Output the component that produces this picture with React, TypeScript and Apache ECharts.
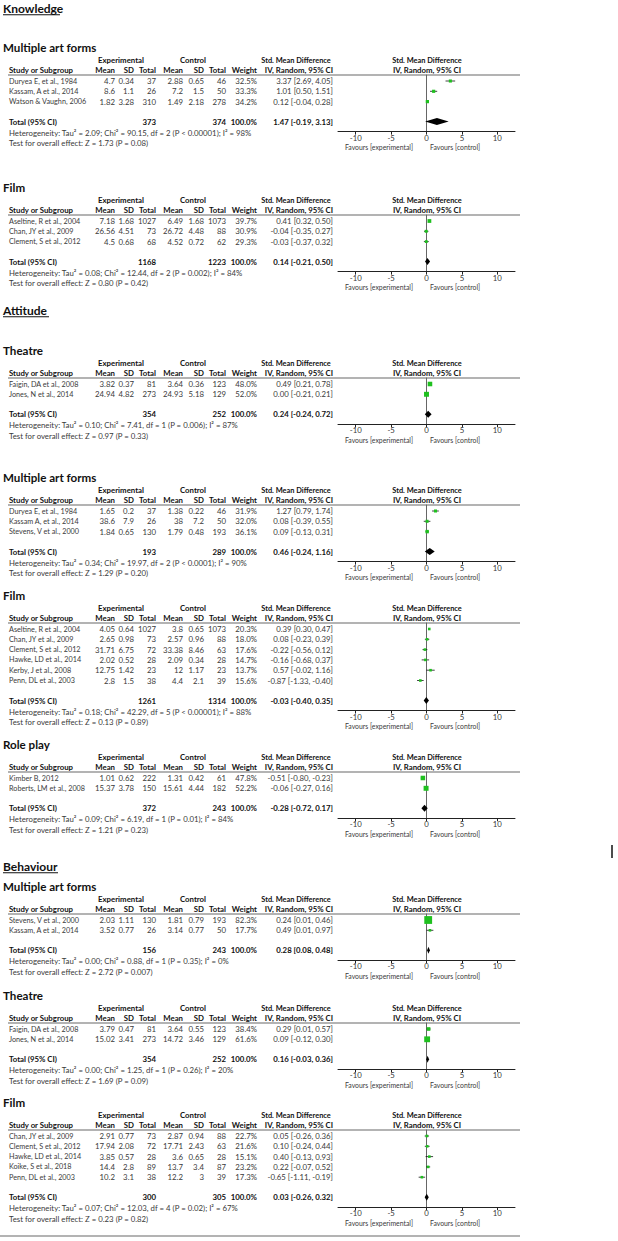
import React, { useEffect, useRef } from "react";
import * as echarts from "echarts";

// ---------- DATA ----------
// Knowledge – Multiple art forms
const K_MULTI_STUDIES = ["Duryea E, et al., 1984", "Kassam, A et al., 2014", "Watson & Vaughn, 2006"];
const K_MULTI_EXP = [[4.7, 0.34, 37], [8.6, 1.1, 26], [1.82, 3.28, 310]];
const K_MULTI_CTRL = [[2.88, 0.65, 46], [7.2, 1.5, 50], [1.49, 2.18, 278]];
const K_MULTI_WEIGHT = [32.5, 33.3, 34.2];
const K_MULTI_SMD = [[3.37, 2.69, 4.05], [1.01, 0.5, 1.51], [0.12, -0.04, 0.28]];
const K_MULTI_TOTAL = [373, 374, 1.47, -0.19, 3.13];
const K_MULTI_HET = "Heterogeneity: Tau² = 2.09; Chi² = 90.15, df = 2 (P < 0.00001); I² = 98%";
const K_MULTI_Z = "Test for overall effect: Z = 1.73 (P = 0.08)";

// Knowledge – Film
const K_FILM_STUDIES = ["Aseltine, R et al., 2004", "Chan, JY et al., 2009", "Clement, S et al., 2012"];
const K_FILM_EXP = [[7.18, 1.68, 1027], [26.56, 4.51, 73], [4.5, 0.68, 68]];
const K_FILM_CTRL = [[6.49, 1.68, 1073], [26.72, 4.48, 88], [4.52, 0.72, 62]];
const K_FILM_WEIGHT = [39.7, 30.9, 29.3];
const K_FILM_SMD = [[0.41, 0.32, 0.5], [-0.04, -0.35, 0.27], [-0.03, -0.37, 0.32]];
const K_FILM_TOTAL = [1168, 1223, 0.14, -0.21, 0.5];
const K_FILM_HET = "Heterogeneity: Tau² = 0.08; Chi² = 12.44, df = 2 (P = 0.002); I² = 84%";
const K_FILM_Z = "Test for overall effect: Z = 0.80 (P = 0.42)";

// Attitude – Theatre
const A_THEATRE_STUDIES = ["Faigin, DA et al., 2008", "Jones, N et al., 2014"];
const A_THEATRE_EXP = [[3.82, 0.37, 81], [24.94, 4.82, 273]];
const A_THEATRE_CTRL = [[3.64, 0.36, 123], [24.93, 5.18, 129]];
const A_THEATRE_WEIGHT = [48.0, 52.0];
const A_THEATRE_SMD = [[0.49, 0.21, 0.78], [0.0, -0.21, 0.21]];
const A_THEATRE_TOTAL = [354, 252, 0.24, -0.24, 0.72];
const A_THEATRE_HET = "Heterogeneity: Tau² = 0.10; Chi² = 7.41, df = 1 (P = 0.006); I² = 87%";
const A_THEATRE_Z = "Test for overall effect: Z = 0.97 (P = 0.33)";

// Attitude – Multiple art forms
const A_MULTI_STUDIES = ["Duryea E, et al., 1984", "Kassam A, et al., 2014", "Stevens, V et al., 2000"];
const A_MULTI_EXP = [[1.65, 0.2, 37], [38.6, 7.9, 26], [1.84, 0.65, 130]];
const A_MULTI_CTRL = [[1.38, 0.22, 46], [38, 7.2, 50], [1.79, 0.48, 193]];
const A_MULTI_WEIGHT = [31.9, 32.0, 36.1];
const A_MULTI_SMD = [[1.27, 0.79, 1.74], [0.08, -0.39, 0.55], [0.09, -0.13, 0.31]];
const A_MULTI_TOTAL = [193, 289, 0.46, -0.24, 1.16];
const A_MULTI_HET = "Heterogeneity: Tau² = 0.34; Chi² = 19.97, df = 2 (P < 0.0001); I² = 90%";
const A_MULTI_Z = "Test for overall effect: Z = 1.29 (P = 0.20)";

// Attitude – Film
const A_FILM_STUDIES = [
  "Aseltine, R et al., 2004",
  "Chan, JY et al., 2009",
  "Clement, S et al., 2012",
  "Hawke, LD et al., 2014",
  "Kerby, J et al., 2008",
  "Penn, DL et al., 2003",
];
const A_FILM_EXP = [[4.05, 0.64, 1027], [2.65, 0.98, 73], [31.71, 6.75, 72], [2.02, 0.52, 28], [12.75, 1.42, 23], [2.8, 1.5, 38]];
const A_FILM_CTRL = [[3.8, 0.65, 1073], [2.57, 0.96, 88], [33.38, 8.46, 63], [2.09, 0.34, 28], [12, 1.17, 23], [4.4, 2.1, 39]];
const A_FILM_WEIGHT = [20.3, 18.0, 17.6, 14.7, 13.7, 15.6];
const A_FILM_SMD = [[0.39, 0.3, 0.47], [0.08, -0.23, 0.39], [-0.22, -0.56, 0.12], [-0.16, -0.68, 0.37], [0.57, -0.02, 1.16], [-0.87, -1.33, -0.4]];
const A_FILM_TOTAL = [1261, 1314, -0.03, -0.4, 0.35];
const A_FILM_HET = "Heterogeneity: Tau² = 0.18; Chi² = 42.29, df = 5 (P < 0.00001); I² = 88%";
const A_FILM_Z = "Test for overall effect: Z = 0.13 (P = 0.89)";

// Attitude – Role play
const A_ROLE_STUDIES = ["Kimber B, 2012", "Roberts, LM et al., 2008"];
const A_ROLE_EXP = [[1.01, 0.62, 222], [15.37, 3.78, 150]];
const A_ROLE_CTRL = [[1.31, 0.42, 61], [15.61, 4.44, 182]];
const A_ROLE_WEIGHT = [47.8, 52.2];
const A_ROLE_SMD = [[-0.51, -0.8, -0.23], [-0.06, -0.27, 0.16]];
const A_ROLE_TOTAL = [372, 243, -0.28, -0.72, 0.17];
const A_ROLE_HET = "Heterogeneity: Tau² = 0.09; Chi² = 6.19, df = 1 (P = 0.01); I² = 84%";
const A_ROLE_Z = "Test for overall effect: Z = 1.21 (P = 0.23)";

// Behaviour – Multiple art forms
const B_MULTI_STUDIES = ["Stevens, V et al., 2000", "Kassam, A et al., 2014"];
const B_MULTI_EXP = [[2.03, 1.11, 130], [3.52, 0.77, 26]];
const B_MULTI_CTRL = [[1.81, 0.79, 193], [3.14, 0.77, 50]];
const B_MULTI_WEIGHT = [82.3, 17.7];
const B_MULTI_SMD = [[0.24, 0.01, 0.46], [0.49, 0.01, 0.97]];
const B_MULTI_TOTAL = [156, 243, 0.28, 0.08, 0.48];
const B_MULTI_HET = "Heterogeneity: Tau² = 0.00; Chi² = 0.88, df = 1 (P = 0.35); I² = 0%";
const B_MULTI_Z = "Test for overall effect: Z = 2.72 (P = 0.007)";

// Behaviour – Theatre
const B_THEATRE_STUDIES = ["Faigin, DA et al., 2008", "Jones, N et al., 2014"];
const B_THEATRE_EXP = [[3.79, 0.47, 81], [15.02, 3.41, 273]];
const B_THEATRE_CTRL = [[3.64, 0.55, 123], [14.72, 3.46, 129]];
const B_THEATRE_WEIGHT = [38.4, 61.6];
const B_THEATRE_SMD = [[0.29, 0.01, 0.57], [0.09, -0.12, 0.3]];
const B_THEATRE_TOTAL = [354, 252, 0.16, -0.03, 0.36];
const B_THEATRE_HET = "Heterogeneity: Tau² = 0.00; Chi² = 1.25, df = 1 (P = 0.26); I² = 20%";
const B_THEATRE_Z = "Test for overall effect: Z = 1.69 (P = 0.09)";

// Behaviour – Film
const B_FILM_STUDIES = [
  "Chan, JY et al., 2009",
  "Clement, S et al., 2012",
  "Hawke, LD et al., 2014",
  "Koike, S et al., 2018",
  "Penn, DL et al., 2003",
];
const B_FILM_EXP = [[2.91, 0.77, 73], [17.94, 2.08, 72], [3.85, 0.57, 28], [14.4, 2.8, 89], [10.2, 3.1, 38]];
const B_FILM_CTRL = [[2.87, 0.94, 88], [17.71, 2.43, 63], [3.6, 0.65, 28], [13.7, 3.4, 87], [12.2, 3, 39]];
const B_FILM_WEIGHT = [22.7, 21.6, 15.1, 23.2, 17.3];
const B_FILM_SMD = [[0.05, -0.26, 0.36], [0.1, -0.24, 0.44], [0.4, -0.13, 0.93], [0.22, -0.07, 0.52], [-0.65, -1.11, -0.19]];
const B_FILM_TOTAL = [300, 305, 0.03, -0.26, 0.32];
const B_FILM_HET = "Heterogeneity: Tau² = 0.07; Chi² = 12.03, df = 4 (P = 0.02); I² = 67%";
const B_FILM_Z = "Test for overall effect: Z = 0.23 (P = 0.82)";

const AXIS_TICKS = [-10, -5, 0, 5, 10];
const SECTIONS = ["Knowledge", "Attitude", "Behaviour"];

const PANELS = [
  { title: "Multiple art forms", studies: K_MULTI_STUDIES, exp: K_MULTI_EXP, ctrl: K_MULTI_CTRL, weight: K_MULTI_WEIGHT, smd: K_MULTI_SMD, total: K_MULTI_TOTAL, het: K_MULTI_HET, z: K_MULTI_Z },
  { title: "Film", studies: K_FILM_STUDIES, exp: K_FILM_EXP, ctrl: K_FILM_CTRL, weight: K_FILM_WEIGHT, smd: K_FILM_SMD, total: K_FILM_TOTAL, het: K_FILM_HET, z: K_FILM_Z },
  { title: "Theatre", studies: A_THEATRE_STUDIES, exp: A_THEATRE_EXP, ctrl: A_THEATRE_CTRL, weight: A_THEATRE_WEIGHT, smd: A_THEATRE_SMD, total: A_THEATRE_TOTAL, het: A_THEATRE_HET, z: A_THEATRE_Z },
  { title: "Multiple art forms", studies: A_MULTI_STUDIES, exp: A_MULTI_EXP, ctrl: A_MULTI_CTRL, weight: A_MULTI_WEIGHT, smd: A_MULTI_SMD, total: A_MULTI_TOTAL, het: A_MULTI_HET, z: A_MULTI_Z },
  { title: "Film", studies: A_FILM_STUDIES, exp: A_FILM_EXP, ctrl: A_FILM_CTRL, weight: A_FILM_WEIGHT, smd: A_FILM_SMD, total: A_FILM_TOTAL, het: A_FILM_HET, z: A_FILM_Z },
  { title: "Role play", studies: A_ROLE_STUDIES, exp: A_ROLE_EXP, ctrl: A_ROLE_CTRL, weight: A_ROLE_WEIGHT, smd: A_ROLE_SMD, total: A_ROLE_TOTAL, het: A_ROLE_HET, z: A_ROLE_Z },
  { title: "Multiple art forms", studies: B_MULTI_STUDIES, exp: B_MULTI_EXP, ctrl: B_MULTI_CTRL, weight: B_MULTI_WEIGHT, smd: B_MULTI_SMD, total: B_MULTI_TOTAL, het: B_MULTI_HET, z: B_MULTI_Z },
  { title: "Theatre", studies: B_THEATRE_STUDIES, exp: B_THEATRE_EXP, ctrl: B_THEATRE_CTRL, weight: B_THEATRE_WEIGHT, smd: B_THEATRE_SMD, total: B_THEATRE_TOTAL, het: B_THEATRE_HET, z: B_THEATRE_Z },
  { title: "Film", studies: B_FILM_STUDIES, exp: B_FILM_EXP, ctrl: B_FILM_CTRL, weight: B_FILM_WEIGHT, smd: B_FILM_SMD, total: B_FILM_TOTAL, het: B_FILM_HET, z: B_FILM_Z },
];

// ---------- LAYOUT ----------
const W = 618;
const H = 1241;
const PANEL_TOPS = [47, 187, 350, 477, 595, 744, 886, 995, 1102];
const SECTION_YS = [8, 310, 866];
const ROW_H = 10.3;
const COL = { name: 9, eMean: 115, eSD: 134, eN: 156, cMean: 183, cSD: 204, cN: 226, weight: 257, ci: 333 };
const FOREST_LEFT = 338;
const FOREST_RIGHT = 515;
const FOREST_ZERO = 427;
const FONT = "Lato, 'Open Sans', sans-serif";
const FS = 7.8;
const TXT = "#3a3a3a";
const BOLD = "#111";
const GREEN = "#1fc01f";

function text(x: number, y: number, s: string, align = "left", bold = false, size = FS, color?: string, sx = 1) {
  return {
    type: "text",
    x,
    y,
    scaleX: sx,
    silent: true,
    style: {
      text: s,
      fontSize: size,
      fontFamily: FONT,
      fontWeight: bold ? "bold" : "normal",
      fill: color || (bold ? BOLD : TXT),
      align,
      textAlign: align,
      verticalAlign: "middle",
      textVerticalAlign: "middle",
    },
  };
}

function hline(x1: number, x2: number, y: number, color = "#999", lw = 1.5) {
  return { type: "line", silent: true, shape: { x1, y1: y, x2, y2: y }, style: { stroke: color, lineWidth: lw } };
}

const fmt2 = (v: number) => v.toFixed(2);
const ciStr = (a: number[]) => `${fmt2(a[0])} [${fmt2(a[1])}, ${fmt2(a[2])}]`;

function buildOption() {
  const graphic: any[] = [];
  const grids: any[] = [];
  const xAxes: any[] = [];
  const yAxes: any[] = [];
  const series: any[] = [];

  SECTIONS.forEach((s, i) => {
    const y = SECTION_YS[i];
    graphic.push(text(3, y, s, "left", true, 12, "#111"));
    const wdt = s === "Knowledge" ? 57 : s === "Attitude" ? 46 : 55;
    graphic.push({ type: "line", silent: true, shape: { x1: 3, y1: y + 6.8, x2: 3 + wdt, y2: y + 6.8 }, style: { stroke: "#111", lineWidth: 1.1 } });
  });

  PANELS.forEach((p, pi) => {
    const T = PANEL_TOPS[pi];
    const n = p.studies.length;
    const h1 = T + 13;
    const h2 = T + 23;
    const lineY = T + 28;
    const row0 = T + 34;
    const totalY = row0 + ROW_H * (n - 1) + 20;
    const hetY = totalY + 11;
    const zY = hetY + 10.5;
    const axisY = hetY - 1;

    graphic.push(text(3, T, p.title, "left", true, 11.6, "#111"));
    graphic.push(text(121, h1, "Experimental", "center", true));
    graphic.push(text(193, h1, "Control", "center", true));
    graphic.push(text(296, h1, "Std. Mean Difference", "center", true, FS, undefined, 0.95));
    graphic.push(text(FOREST_ZERO, h1, "Std. Mean Difference", "center", true, FS, undefined, 0.95));
    graphic.push(text(COL.name, h2, "Study or Subgroup", "left", true));
    graphic.push(text(COL.eMean, h2, "Mean", "right", true));
    graphic.push(text(COL.eSD, h2, "SD", "right", true));
    graphic.push(text(COL.eN, h2, "Total", "right", true));
    graphic.push(text(COL.cMean, h2, "Mean", "right", true));
    graphic.push(text(COL.cSD, h2, "SD", "right", true));
    graphic.push(text(COL.cN, h2, "Total", "right", true));
    graphic.push(text(COL.weight, h2, "Weight", "right", true));
    graphic.push(text(COL.ci, h2, "IV, Random, 95% CI", "right", true));
    graphic.push(text(FOREST_ZERO, h2, "IV, Random, 95% CI", "center", true));
    graphic.push(hline(8, 520, lineY, "#9a9a9a", 1.6));

    p.studies.forEach((name, i) => {
      const y = row0 + ROW_H * i;
      graphic.push(text(COL.name, y, name, "left", false, FS, undefined, 0.93));
      graphic.push(text(COL.eMean, y, String(p.exp[i][0]), "right"));
      graphic.push(text(COL.eSD, y, String(p.exp[i][1]), "right"));
      graphic.push(text(COL.eN, y, String(p.exp[i][2]), "right"));
      graphic.push(text(COL.cMean, y, String(p.ctrl[i][0]), "right"));
      graphic.push(text(COL.cSD, y, String(p.ctrl[i][1]), "right"));
      graphic.push(text(COL.cN, y, String(p.ctrl[i][2]), "right"));
      graphic.push(text(COL.weight, y, p.weight[i].toFixed(1) + "%", "right"));
      graphic.push(text(COL.ci, y, ciStr(p.smd[i]), "right"));
    });

    graphic.push(text(COL.name, totalY, "Total (95% CI)", "left", true));
    graphic.push(text(COL.eN, totalY, String(p.total[0]), "right", true));
    graphic.push(text(COL.cN, totalY, String(p.total[1]), "right", true));
    graphic.push(text(COL.weight, totalY, "100.0%", "right", true));
    graphic.push(text(COL.ci, totalY, ciStr(p.total.slice(2)), "right", true));
    graphic.push(text(COL.name, hetY, p.het));
    graphic.push(text(COL.name, zY, p.z));
    graphic.push(text(FOREST_ZERO - 14, hetY + 15, "Favours [experimental]", "right", false, FS, undefined, 0.88));
    graphic.push(text(FOREST_ZERO + 3, hetY + 15, "Favours [control]", "left", false, FS, undefined, 0.88));

    // forest grid
    const yMin = -(row0 - lineY) / ROW_H;
    const yMax = (axisY - row0) / ROW_H;
    const totIdx = (totalY - row0) / ROW_H;
    grids.push({ left: FOREST_LEFT, width: FOREST_RIGHT - FOREST_LEFT, top: lineY, height: axisY - lineY, containLabel: false });
    xAxes.push({
      type: "value",
      gridIndex: pi,
      min: -12.5,
      max: 12.5,
      axisLine: { show: true, onZero: false, lineStyle: { color: "#222", width: 1 } },
      axisTick: { show: true, length: 3, customValues: AXIS_TICKS, lineStyle: { color: "#222" } },
      axisLabel: { show: true, customValues: AXIS_TICKS, fontSize: FS, fontFamily: FONT, color: TXT, margin: 2 },
      splitLine: { show: false },
    });
    yAxes.push({
      type: "value",
      gridIndex: pi,
      inverse: true,
      min: yMin,
      max: yMax,
      axisLine: { show: true, onZero: true, lineStyle: { color: "#666", width: 1 } },
      axisTick: { show: false },
      axisLabel: { show: false },
      splitLine: { show: false },
    });

    series.push({
      type: "custom",
      xAxisIndex: pi,
      yAxisIndex: pi,
      clip: false,
      data: p.smd.map((s, i) => [s[0], i, s[1], s[2], p.weight[i]]),
      encode: { x: 0, y: 1 },
      renderItem: (params: any, api: any) => {
        const yi = api.value(1);
        const c = api.coord([api.value(0), yi]);
        const l = api.coord([api.value(2), yi]);
        const r = api.coord([api.value(3), yi]);
        const sz = Math.max(2.6, api.value(4) * 0.095);
        return {
          type: "group",
          children: [
            { type: "line", shape: { x1: l[0], y1: c[1], x2: r[0], y2: c[1] }, style: { stroke: "#111", lineWidth: 0.8 } },
            { type: "rect", shape: { x: c[0] - sz / 2, y: c[1] - sz / 2, width: sz, height: sz }, style: { fill: GREEN } },
          ],
        };
      },
    });
    series.push({
      type: "custom",
      xAxisIndex: pi,
      yAxisIndex: pi,
      clip: false,
      data: [[p.total[2], totIdx, p.total[3], p.total[4]]],
      encode: { x: 0, y: 1 },
      renderItem: (params: any, api: any) => {
        const yi = api.value(1);
        const c = api.coord([api.value(0), yi]);
        const l = api.coord([api.value(2), yi]);
        const r = api.coord([api.value(3), yi]);
        const hh = 3.5;
        return {
          type: "polygon",
          shape: { points: [[l[0], c[1]], [c[0], c[1] - hh], [r[0], c[1]], [c[0], c[1] + hh]] },
          style: { fill: "#000" },
        };
      },
    });
  });

  // stray mark and bottom rule
  graphic.push({ type: "line", silent: true, shape: { x1: 612, y1: 845, x2: 612, y2: 858 }, style: { stroke: "#111", lineWidth: 1.5 } });
  graphic.push(hline(0, 520, 1236, "#9a9a9a", 1.6));

  return {
    animation: false,
    backgroundColor: "#fff",
    grid: grids,
    xAxis: xAxes,
    yAxis: yAxes,
    series,
    graphic: { elements: graphic },
  };
}

export default function App() {
  const ref = useRef<HTMLDivElement>(null);
  useEffect(() => {
    if (!ref.current) return;
    const chart = echarts.init(ref.current, undefined, { renderer: "svg" });
    chart.setOption(buildOption() as any);
    return () => chart.dispose();
  }, []);
  return <div ref={ref} style={{ position: "absolute", left: 0, top: 0, width: W, height: H, background: "#fff" }} />;
}
